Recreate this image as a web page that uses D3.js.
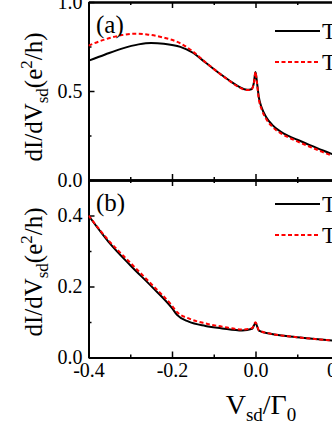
<!DOCTYPE html>
<html>
<head>
<meta charset="utf-8">
<script src="https://cdn.jsdelivr.net/npm/d3@7"></script>
<style>
  html, body { margin: 0; padding: 0; background: #fff; overflow: hidden; }
  svg { display: block; font-family: "Liberation Serif", "DejaVu Serif", serif; }
</style>
</head>
<body>
<script>
'use strict';

// panel (a)
const aBlackX = [-0.40, -0.36, -0.32, -0.28, -0.25, -0.22, -0.18, -0.15, -0.12, -0.09, -0.06, -0.04, -0.02, -0.01, -0.004, 0.0, 0.003, 0.008, 0.015, 0.025, 0.04, 0.06, 0.08, 0.10, 0.13, 0.16, 0.19];
const aBlackY = [0.67, 0.705, 0.738, 0.762, 0.77, 0.766, 0.748, 0.715, 0.66, 0.605, 0.555, 0.525, 0.507, 0.51, 0.545, 0.607, 0.56, 0.465, 0.405, 0.355, 0.31, 0.272, 0.247, 0.226, 0.196, 0.167, 0.14];
const aRedX = [-0.40, -0.36, -0.32, -0.29, -0.26, -0.22, -0.18, -0.15, -0.12, -0.09, -0.06, -0.04, -0.02, -0.01, -0.004, 0.0, 0.003, 0.008, 0.015, 0.025, 0.04, 0.06, 0.08, 0.10, 0.13, 0.16, 0.19];
const aRedY = [0.755, 0.79, 0.814, 0.822, 0.818, 0.8, 0.768, 0.722, 0.662, 0.605, 0.553, 0.522, 0.505, 0.508, 0.543, 0.607, 0.555, 0.455, 0.395, 0.345, 0.3, 0.263, 0.238, 0.217, 0.187, 0.158, 0.13];

// panel (b)
const bBlackX = [-0.40, -0.352, -0.30, -0.248, -0.20, -0.188, -0.16, -0.12, -0.08, -0.032, -0.008, 0.0, 0.008, 0.036, 0.077, 0.117, 0.19];
const bBlackY = [0.40, 0.326, 0.26, 0.199, 0.139, 0.12, 0.101, 0.089, 0.082, 0.076, 0.081, 0.097, 0.076, 0.067, 0.06, 0.055, 0.047];
const bRedX = [-0.40, -0.352, -0.30, -0.248, -0.20, -0.188, -0.16, -0.12, -0.08, -0.032, -0.008, 0.0, 0.008, 0.036, 0.077, 0.117, 0.19];
const bRedY = [0.40, 0.33, 0.267, 0.205, 0.146, 0.128, 0.11, 0.096, 0.087, 0.079, 0.083, 0.099, 0.077, 0.067, 0.06, 0.055, 0.047];

const xTicks = [-0.4, -0.2, 0.0, 0.2];
const xMinor = [-0.3, -0.1, 0.1];
const aTicks = [0.0, 0.5, 1.0];
const aMinor = [0.25, 0.75];
const bTicks = [0.0, 0.2, 0.4];
const bMinor = [0.1, 0.3];
const legendLabels = ['T', 'T'];

const width = 332, height = 430;
const svg = d3.select('body').append('svg')
  .attr('width', width).attr('height', height)
  .attr('viewBox', [0, 0, width, height]);

const x = d3.scaleLinear().domain([-0.4, 0.4]).range([88.5, 422.5]);
const yA = d3.scaleLinear().domain([0, 1]).range([180, 2]);
const yB = d3.scaleLinear().domain([0, 0.5]).range([357.5, 180]);

const fmt = d => d.toFixed(1); // plain hyphen like the original

function styleAxis(g) {
  g.select('.domain').attr('stroke', '#000').attr('stroke-width', 2);
  g.selectAll('.tick line').attr('stroke', '#000').attr('stroke-width', 1.5);
  g.selectAll('.tick text').attr('fill', '#000').attr('font-size', 20)
    .attr('font-family', '"Liberation Serif", serif');
}

function panel(y, ticks, minor, showXLabels) {
  // left axis, ticks inward
  svg.append('g').attr('transform', `translate(${x.range()[0]},0)`)
    .call(d3.axisLeft(y).tickValues(ticks).tickFormat(fmt).tickSizeInner(-6).tickSizeOuter(0).tickPadding(6))
    .call(styleAxis);
  svg.append('g').attr('transform', `translate(${x.range()[0]},0)`)
    .call(d3.axisLeft(y).tickValues(minor).tickFormat('').tickSizeInner(-3).tickSizeOuter(0))
    .call(styleAxis);
  // bottom axis (ticks pointing up)
  svg.append('g').attr('transform', `translate(0,${y.range()[0]})`)
    .call(d3.axisBottom(x).tickValues(xTicks).tickFormat(showXLabels ? fmt : '').tickSizeInner(-6).tickSizeOuter(0).tickPadding(5))
    .call(styleAxis);
  svg.append('g').attr('transform', `translate(0,${y.range()[0]})`)
    .call(d3.axisBottom(x).tickValues(xMinor).tickFormat('').tickSizeInner(-3).tickSizeOuter(0))
    .call(styleAxis);
  // top axis (ticks pointing down)
  svg.append('g').attr('transform', `translate(0,${y.range()[1]})`)
    .call(d3.axisTop(x).tickValues(xTicks).tickFormat('').tickSizeInner(-6).tickSizeOuter(0))
    .call(styleAxis);
  svg.append('g').attr('transform', `translate(0,${y.range()[1]})`)
    .call(d3.axisTop(x).tickValues(xMinor).tickFormat('').tickSizeInner(-3).tickSizeOuter(0))
    .call(styleAxis);
}

panel(yA, aTicks, aMinor, false);
panel(yB, bTicks, bMinor, true);

// curves
svg.append('clipPath').attr('id', 'plotclip')
  .append('rect').attr('x', x.range()[0]).attr('y', 0).attr('width', width).attr('height', 358);

function curve(xs, ys, y, color, dash) {
  const line = d3.line().x(d => x(d[0])).y(d => y(d[1])).curve(d3.curveMonotoneX);
  svg.append('path')
    .attr('clip-path', 'url(#plotclip)')
    .datum(d3.zip(xs, ys))
    .attr('fill', 'none')
    .attr('stroke', color)
    .attr('stroke-width', 2)
    .attr('stroke-dasharray', dash ? '4,2.5' : null)
    .attr('d', line);
}
curve(aBlackX, aBlackY, yA, '#000', false);
curve(aRedX, aRedY, yA, '#ff0000', true);
curve(bBlackX, bBlackY, yB, '#000', false);
curve(bRedX, bRedY, yB, '#ff0000', true);

// panel labels
svg.append('text').attr('x', 96).attr('y', 33).attr('font-size', 25).text('(a)');
svg.append('text').attr('x', 96).attr('y', 211).attr('font-size', 25).text('(b)');

// legends
function legend(y0) {
  [['#000', null], ['#ff0000', '4,2.5']].forEach((s, i) => {
    const yy = y0 + i * 31;
    svg.append('line').attr('x1', 275).attr('x2', 320).attr('y1', yy).attr('y2', yy)
      .attr('stroke', s[0]).attr('stroke-width', 2).attr('stroke-dasharray', s[1]);
    svg.append('text').attr('x', 322).attr('y', yy + 8).attr('font-size', 23).text(legendLabels[i]);
  });
}
legend(31);
legend(204);

// y titles
function yTitle(cy) {
  const t = svg.append('text')
    .attr('transform', `translate(42,${cy}) rotate(-90)`)
    .attr('text-anchor', 'middle')
    .attr('font-size', 25);
  t.append('tspan').text('dI/dV');
  t.append('tspan').attr('font-size', 17).attr('dy', 6).text('sd');
  t.append('tspan').attr('dy', -6).text('(e');
  t.append('tspan').attr('font-size', 17).attr('dy', -10).text('2');
  t.append('tspan').attr('dy', 10).text('/h)');
}
yTitle(97);
yTitle(272);

// x title
const xt = svg.append('text').attr('x', 261).attr('y', 414).attr('text-anchor', 'middle').attr('font-size', 28);
xt.append('tspan').text('V');
xt.append('tspan').attr('font-size', 19).attr('dy', 7).text('sd');
xt.append('tspan').attr('dy', -7).text('/\u0393');
xt.append('tspan').attr('font-size', 19).attr('dy', 7).text('0');
</script>
</body>
</html>
